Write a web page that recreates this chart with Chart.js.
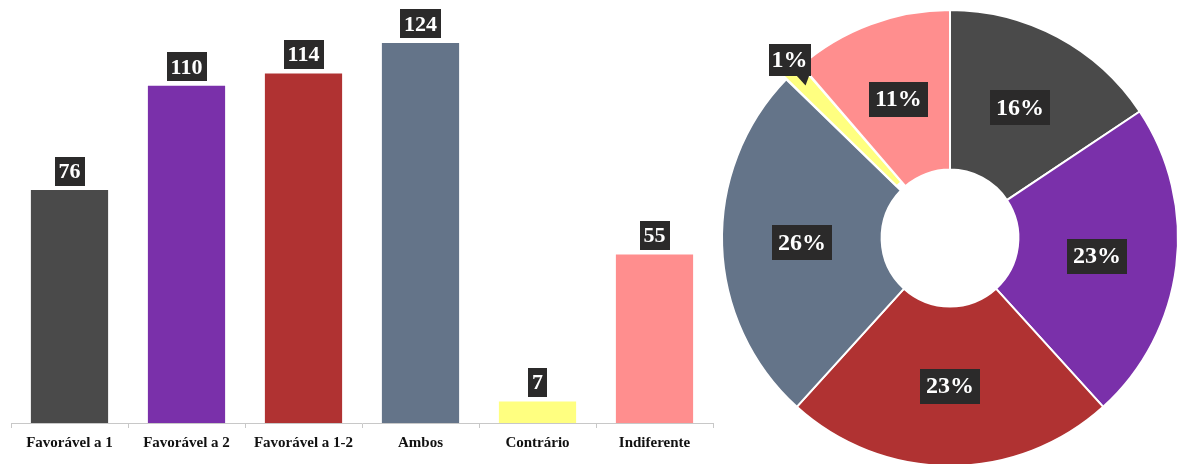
<!DOCTYPE html>
<html>
<head>
<meta charset="utf-8">
<script src="https://cdn.jsdelivr.net/npm/chart.js@4/dist/chart.umd.min.js"></script>
<style>
  body { margin: 0; background: #fff; }
  #barBox { position: absolute; left: 0; top: 0; width: 730px; height: 464px; }
  #pieBox { position: absolute; left: 715px; top: 3px; width: 470px; height: 470px; }
</style>
</head>
<body>
<div id="barBox"><canvas id="barChart"></canvas></div>
<div id="pieBox"><canvas id="pieChart"></canvas></div>
<script>
  // Data
  const categories = ['Favorável a 1', 'Favorável a 2', 'Favorável a 1-2', 'Ambos', 'Contrário', 'Indiferente'];
  const counts = [76, 110, 114, 124, 7, 55];
  const colors = ['#4a4a4a', '#7a30aa', '#b03232', '#647489', '#ffff80', '#ff8e8e'];

  const total = counts.reduce((a, b) => a + b, 0);
  const serif = '"Liberation Serif", "Times New Roman", serif';

  // dark box with white text, centred on (x, y)
  function drawTag(ctx, text, x, y, size, padX, h) {
    ctx.save();
    ctx.font = 'bold ' + size + 'px ' + serif;
    const w = ctx.measureText(text).width + padX * 2;
    ctx.fillStyle = '#2b2a2a';
    ctx.fillRect(Math.round(x - w / 2), Math.round(y - h / 2), Math.round(w), h);
    ctx.fillStyle = '#fff';
    ctx.textAlign = 'center';
    ctx.textBaseline = 'middle';
    ctx.fillText(text, x, y + 1);
    ctx.restore();
  }

  // value tags above the bars
  const barTags = {
    id: 'barTags',
    afterDatasetsDraw(chart) {
      const ctx = chart.ctx;
      chart.getDatasetMeta(0).data.forEach((bar, i) => {
        drawTag(ctx, String(counts[i]), bar.x, bar.y - 19, 22, 4, 29);
      });
    }
  };

  // percentage tags in the middle of each ring slice
  const pieTags = {
    id: 'pieTags',
    afterDatasetsDraw(chart) {
      const ctx = chart.ctx;
      chart.getDatasetMeta(0).data.forEach((arc, i) => {
        const pct = Math.round(counts[i] / total * 100) + '%';
        if (counts[i] / total < 0.03) {
          // small slice: tag outside with a pointer
          const mid = (arc.startAngle + arc.endAngle) / 2;
          const r = arc.outerRadius + 16;
          const x = arc.x + Math.cos(mid) * r + 7;
          const y = arc.y + Math.sin(mid) * r - 1;
          ctx.save();
          ctx.fillStyle = '#2b2a2a';
          ctx.beginPath();
          ctx.moveTo(x + 6, y + 15);
          ctx.lineTo(x + 20, y + 15);
          ctx.lineTo(x + 16, y + 26);
          ctx.closePath();
          ctx.fill();
          ctx.restore();
          drawTag(ctx, pct, x, y, 24, 3, 32);
        } else {
          const p = arc.tooltipPosition();
          drawTag(ctx, pct, p.x, p.y, 24, 6, 35);
        }
      });
    }
  };

  new Chart(document.getElementById('barChart'), {
    type: 'bar',
    data: {
      labels: categories,
      datasets: [{
        data: counts,
        backgroundColor: colors,
        categoryPercentage: 0.66,
        barPercentage: 1
      }]
    },
    options: {
      responsive: true,
      maintainAspectRatio: false,
      animation: false,
      layout: { padding: { left: 11, right: 17, top: 0, bottom: 6 } },
      plugins: { legend: { display: false }, tooltip: { enabled: false } },
      scales: {
        y: { display: false, min: 0, max: 138 },
        x: {
          grid: { drawOnChartArea: false, color: '#c8c8c8', tickLength: 5 },
          border: { color: '#c8c8c8' },
          ticks: {
            color: '#111',
            padding: 6,
            font: { family: serif, size: 15, weight: 'bold' }
          }
        }
      }
    },
    plugins: [barTags]
  });

  new Chart(document.getElementById('pieChart'), {
    type: 'doughnut',
    data: {
      labels: categories,
      datasets: [{
        data: counts,
        backgroundColor: colors,
        borderColor: '#fff',
        borderWidth: 2,
        offset: counts.map(v => v / total < 0.03 ? 12 : 0)
      }]
    },
    options: {
      responsive: true,
      maintainAspectRatio: false,
      animation: false,
      cutout: '30%',
      layout: { padding: 0 },
      plugins: { legend: { display: false }, tooltip: { enabled: false } }
    },
    plugins: [pieTags]
  });
</script>
</body>
</html>
